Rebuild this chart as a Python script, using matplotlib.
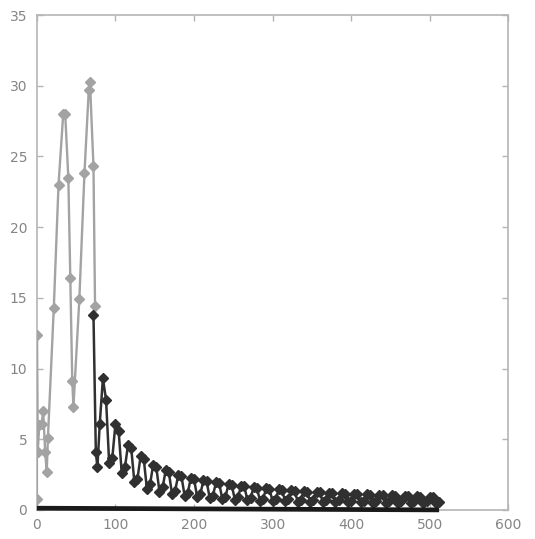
import matplotlib
matplotlib.use("Agg")
import matplotlib.pyplot as plt

# ---- data ----
grey_x = [0, 0, 1, 3, 6, 8, 10.5, 12.5, 14, 21.5, 27.5, 33.5, 36, 40, 42.5,
          45, 46.5, 54, 60.5, 66, 67.5, 72, 74]
grey_y = [0.8, 12.4, 4.1, 6.0, 6.1, 7.0, 4.1, 2.7, 5.1, 14.3, 23.0, 28.0, 28.0,
          23.5, 16.4, 9.1, 7.3, 14.9, 23.8, 29.7, 30.3, 24.3, 14.4]

dark_x = [72, 75, 77, 80,
          84, 88, 92, 96, 100, 104, 108, 112, 116, 120, 124, 128,
          132, 136, 140, 144, 148, 152, 156, 160, 164, 168, 172, 176,
          180, 184, 188, 192, 196, 200, 204, 208, 212, 216, 220, 224,
          228, 232, 236, 240, 244, 248, 252, 256, 260, 264, 268, 272,
          276, 280, 284, 288, 292, 296, 300, 304, 308, 312, 316, 320,
          324, 328, 332, 336, 340, 344, 348, 352, 356, 360, 364, 368,
          372, 376, 380, 384, 388, 392, 396, 400, 404, 408, 412, 416,
          420, 424, 428, 432, 436, 440, 444, 448, 452, 456, 460, 464,
          468, 472, 476, 480, 484, 488, 492, 496, 500, 504, 508, 512]
dark_y = [13.8, 4.1, 3.0, 6.1,
          9.3, 7.8, 3.3, 3.7, 6.1, 5.6, 2.6, 3.0, 4.6, 4.4, 2.0, 2.2,
          3.8, 3.6, 1.5, 1.8, 3.2, 3.0, 1.3, 1.6, 2.8, 2.65, 1.1, 1.35,
          2.5, 2.38, 1.0, 1.2, 2.28, 2.18, 0.92, 1.1, 2.1, 2.02, 0.84, 1.0,
          1.95, 1.88, 0.78, 0.94, 1.82, 1.75, 0.72, 0.88, 1.72, 1.66, 0.68, 0.84,
          1.62, 1.56, 0.65, 0.8, 1.54, 1.48, 0.62, 0.77, 1.46, 1.41, 0.6, 0.74,
          1.4, 1.35, 0.58, 0.72, 1.34, 1.29, 0.57, 0.7, 1.28, 1.24, 0.56, 0.68,
          1.23, 1.19, 0.55, 0.67, 1.18, 1.14, 0.54, 0.66, 1.14, 1.1, 0.53, 0.65,
          1.1, 1.06, 0.52, 0.64, 1.06, 1.02, 0.51, 0.63, 1.03, 0.99, 0.5, 0.62,
          1.0, 0.96, 0.5, 0.61, 0.97, 0.93, 0.49, 0.6, 0.94, 0.9, 0.48, 0.58]

base_x = [0, 512]
base_y = [0.12, 0.0]

x_ticks = [0, 100, 200, 300, 400, 500, 600]
y_ticks = [0, 5, 10, 15, 20, 25, 30, 35]

# ---- figure ----
fig = plt.figure(figsize=(5.35, 5.39), dpi=100)
ax = fig.add_axes([0.069, 0.054, 0.881, 0.918])

grey = "#a3a3a3"
dark = "#303030"
axis_c = "#b5b5b5"
label_c = "#858585"

ax.plot(grey_x, grey_y, color=grey, lw=1.7, marker="D", ms=4.8,
        mfc=grey, mec=grey, zorder=3)
ax.plot(dark_x, dark_y, color=dark, lw=1.8, marker="D", ms=5.2,
        mfc=dark, mec=dark, zorder=4)
ax.plot(base_x, base_y, color="#1a1a1a", lw=3.4, solid_capstyle="butt",
        clip_on=False, zorder=5)

ax.set_xlim(0, 600)
ax.set_ylim(0, 35)
ax.set_xticks(x_ticks)
ax.set_yticks(y_ticks)
ax.set_xticklabels([str(v) for v in x_ticks])
ax.set_yticklabels([str(v) for v in y_ticks])

for s in ax.spines.values():
    s.set_color(axis_c)
    s.set_linewidth(1.2)

ax.tick_params(axis="both", direction="in", length=4, width=1,
               color=axis_c, labelcolor=label_c, labelsize=10,
               top=True, right=True)
ax.tick_params(axis="x", pad=6)
ax.tick_params(axis="y", pad=7)

fig.savefig("out.png", dpi=100, facecolor="white")
